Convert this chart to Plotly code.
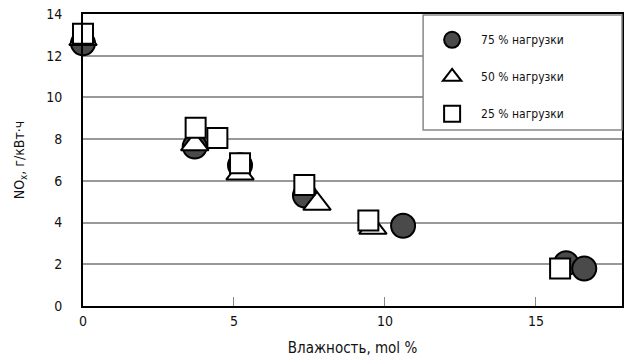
import plotly.graph_objects as go

# 75 % load
x75 = [0, 3.7, 5.2, 7.35, 10.6, 16.0, 16.6]
y75 = [12.6, 7.65, 6.75, 5.3, 3.85, 2.05, 1.8]
# 50 % load
x50 = [0, 3.7, 5.2, 7.75, 9.6]
y50 = [12.8, 7.75, 6.35, 4.9, 3.75]
# 25 % load
x25 = [0, 3.73, 4.45, 5.2, 7.33, 9.45, 15.8]
y25 = [13.05, 8.55, 8.05, 6.85, 5.8, 4.1, 1.8]

names = ["75 % нагрузки", "50 % нагрузки", "25 % нагрузки"]
xticks = [0, 5, 10, 15]
yticks = [0, 2, 4, 6, 8, 10, 12, 14]

FONT = "DejaVu Sans Condensed, Liberation Sans Narrow, Arial Narrow, sans-serif"

fig = go.Figure()
fig.add_trace(go.Scatter(
    x=x75, y=y75, mode="markers", name=names[0], legendgroup="a",
    cliponaxis=False,
    marker=dict(symbol="circle", size=24, color="#4a4a4a",
                line=dict(color="#000000", width=2))))
fig.add_trace(go.Scatter(
    x=x50, y=y50, mode="markers", name=names[1], legendgroup="b",
    cliponaxis=False,
    marker=dict(symbol="triangle-up", size=24, color="#ffffff",
                line=dict(color="#000000", width=2))))
fig.add_trace(go.Scatter(
    x=x25, y=y25, mode="markers", name=names[2], legendgroup="c",
    cliponaxis=False,
    marker=dict(symbol="square", size=20, color="#ffffff",
                line=dict(color="#000000", width=2))))

# legend frame
fig.add_shape(type="rect", xref="paper", yref="paper",
              x0=0.631, x1=1.0, y0=0.603, y1=0.997,
              fillcolor="white", line=dict(color="#888888", width=1.5),
              layer="above")

fig.update_layout(
    width=628, height=358,
    margin=dict(l=83, r=6, t=14, b=52, autoexpand=False),
    paper_bgcolor="white", plot_bgcolor="white",
    font=dict(family=FONT, size=13, color="#111111"),
    showlegend=True,
    legend=dict(
        x=0.631, y=0.997, xanchor="left", yanchor="top",
        bgcolor="rgba(0,0,0,0)", borderwidth=0,
        font=dict(family=FONT, size=12, color="#111111"),
        title=dict(text=" ", font=dict(size=8)),
        tracegroupgap=18, traceorder="grouped", itemsizing="trace",
        itemwidth=48,
    ),
    xaxis=dict(
        range=[0, 17.85], tickvals=xticks, ticktext=[str(v) for v in xticks],
        showgrid=False, zeroline=False, automargin=False,
        showline=True, linecolor="#000000", linewidth=2, mirror=True,
        ticks="inside", ticklen=9, tickcolor="#888888", tickwidth=1,
        ticklabelstandoff=1,
        title=dict(text="Влажность, mol %", standoff=15,
                   font=dict(family=FONT, size=15)),
        tickfont=dict(family=FONT, size=14),
    ),
    yaxis=dict(
        range=[0, 14], tickvals=yticks, ticktext=[str(v) for v in yticks],
        showgrid=True, gridcolor="#999999", gridwidth=1.5, zeroline=False,
        automargin=False,
        showline=True, linecolor="#000000", linewidth=2, mirror=True,
        ticks="", ticklabelstandoff=16,
        title=dict(text="NO<sub>x</sub>, г/кВт·ч", standoff=18,
                   font=dict(family=FONT, size=14)),
        tickfont=dict(family=FONT, size=14),
    ),
)

fig.write_html("out.html")
